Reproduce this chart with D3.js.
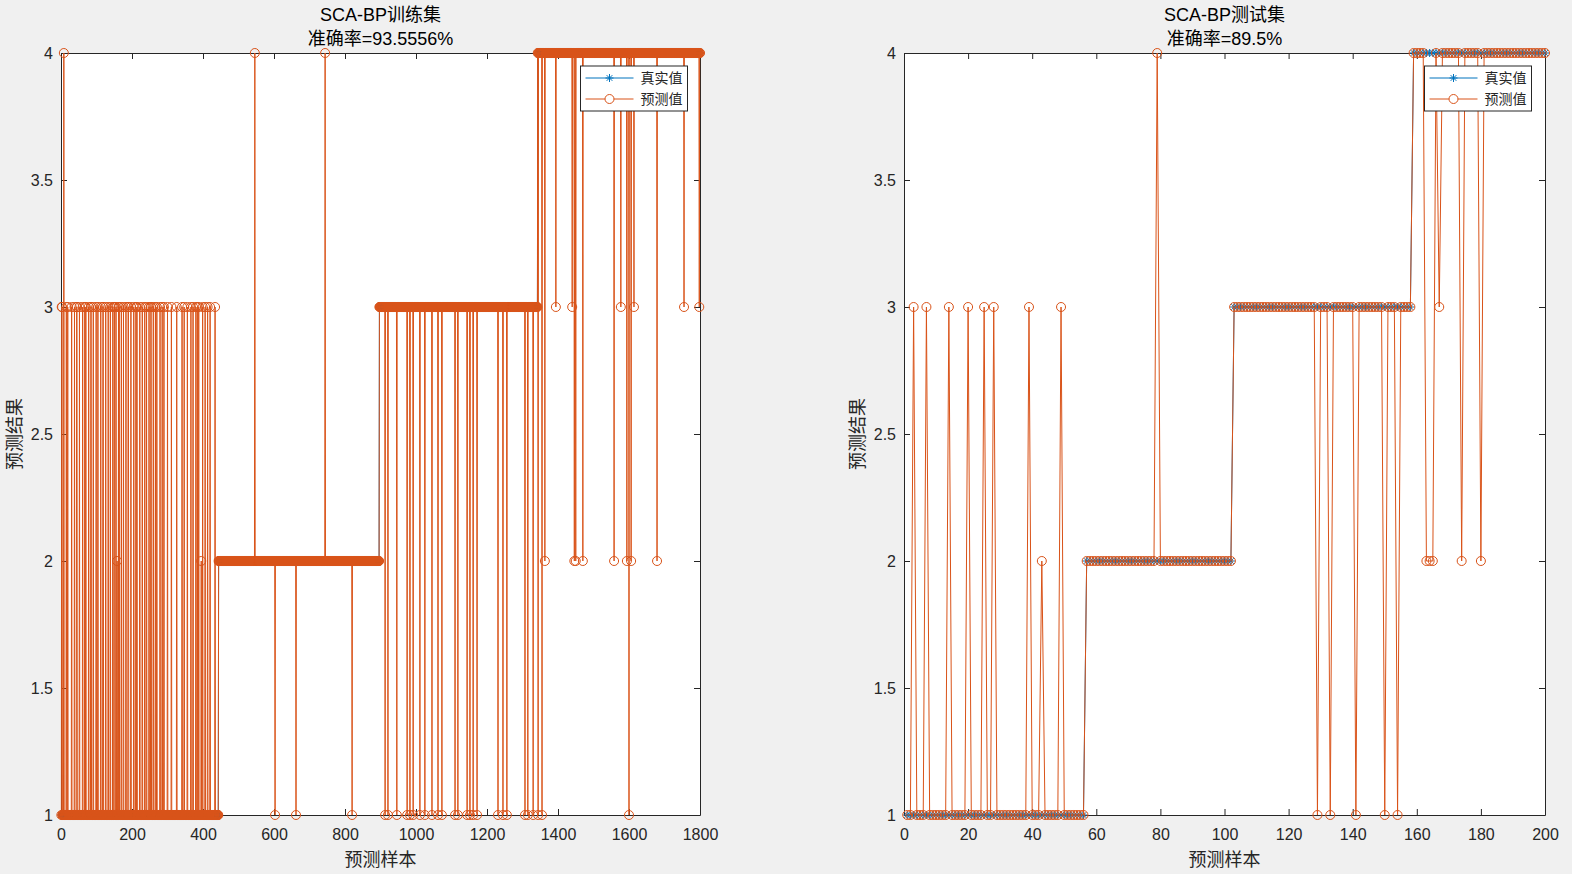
<!DOCTYPE html>
<html>
<head>
<meta charset="utf-8">
<script src="https://cdn.jsdelivr.net/npm/d3@7"></script>
<style>
  html, body { margin: 0; padding: 0; background: #f0f0f0; }
  svg { display: block; }
  text { font-family: "Liberation Sans", Arial, "Noto Sans CJK SC", sans-serif; }
</style>
</head>
<body>
<svg id="chart" width="1572" height="874"></svg>
<script>
// ---------------- DATA ----------------
// Training set (1800 samples, sorted by true class)
const trainClassSizes = [443, 453, 446, 458];           // class 1,2,3,4 counts
const trainWrongTo1 = [603, 662, 820, 913, 921, 946, 975, 983, 992, 1011, 1025, 1045, 1062, 1073,
  1110, 1118, 1144, 1152, 1161, 1172, 1231, 1245, 1256, 1307, 1315, 1330, 1344, 1355, 1600];
const trainWrongTo2 = [158, 395, 1363, 1446, 1450, 1470, 1558, 1594, 1606, 1679];
const trainWrongTo3 = [2, 3, 15, 19, 30, 38, 44, 45, 52, 61, 67, 70, 78, 84, 85, 91, 99, 104, 112,
  118, 119, 126, 133, 139, 146, 150, 151, 155, 162, 164, 170, 176, 183, 189, 190, 197, 205, 211,
  214, 222, 229, 236, 241, 248, 253, 254, 260, 266, 270, 279, 285, 290, 300, 311, 326, 341, 347,
  356, 366, 372, 380, 384, 388, 399, 406, 413, 420, 434,
  1394, 1440, 1577, 1614, 1755, 1798];
const trainWrongTo4 = [8, 546, 744];

// Test set (200 samples, sorted by true class)
const testClassSizes = [56, 46, 56, 42];
const testWrongTo1 = [129, 133, 141, 150, 154];
const testWrongTo2 = [43, 163, 164, 165, 174, 180];
const testWrongTo3 = [3, 7, 14, 20, 25, 28, 39, 49, 167];
const testWrongTo4 = [79];

const yTicks = [1, 1.5, 2, 2.5, 3, 3.5, 4];
const trainXTicks = [0, 200, 400, 600, 800, 1000, 1200, 1400, 1600, 1800];
const testXTicks = [0, 20, 40, 60, 80, 100, 120, 140, 160, 180, 200];

const trainTitle = ["SCA-BP训练集", "准确率=93.5556%"];
const testTitle = ["SCA-BP测试集", "准确率=89.5%"];
const xLabel = "预测样本";
const yLabel = "预测结果";
const legendLabels = ["真实值", "预测值"];

// ---------------- BUILD SERIES ----------------
function buildSeries(sizes, wrong) {
  const truth = [];
  sizes.forEach((n, k) => { for (let j = 0; j < n; j++) truth.push(k + 1); });
  const pred = truth.slice();
  wrong.forEach((list, k) => list.forEach(i => { pred[i - 1] = k + 1; }));
  return {
    truth: truth.map((v, i) => ({ x: i + 1, y: v })),
    pred: pred.map((v, i) => ({ x: i + 1, y: v }))
  };
}
const trainSeries = buildSeries(trainClassSizes, [trainWrongTo1, trainWrongTo2, trainWrongTo3, trainWrongTo4]);
const testSeries = buildSeries(testClassSizes, [testWrongTo1, testWrongTo2, testWrongTo3, testWrongTo4]);

// ---------------- DRAW ----------------
const BLUE = "#0072BD", ORANGE = "#D95319", AX = "#262626";
const svg = d3.select("#chart");
const R = 4.5;

function starPath(s) {
  const d = s * 0.7071;
  return `M${-s},0L${s},0M0,${-s}L0,${s}M${-d},${-d}L${d},${d}M${-d},${d}L${d},${-d}`;
}

function panel(cfg) {
  const { x0, x1, y0, y1, xMax, xTicks, series, title, legendX } = cfg;
  const xs = d3.scaleLinear().domain([0, xMax]).range([x0, x1]);
  const ys = d3.scaleLinear().domain([1, 4]).range([y1, y0]);
  const g = svg.append("g");

  g.append("rect").attr("x", x0).attr("y", y0).attr("width", x1 - x0).attr("height", y1 - y0)
    .attr("fill", "#ffffff");

  // axes (box with inward ticks on all sides)
  const bottom = d3.axisBottom(xs).tickValues(xTicks).tickSizeInner(-6).tickSizeOuter(0).tickPadding(14)
    .tickFormat(d3.format("d"));
  const top = d3.axisTop(xs).tickValues(xTicks).tickSizeInner(-6).tickSizeOuter(0).tickFormat("");
  const left = d3.axisLeft(ys).tickValues(yTicks).tickSizeInner(-6).tickSizeOuter(0).tickPadding(8)
    .tickFormat(d3.format("~g"));
  const right = d3.axisRight(ys).tickValues(yTicks).tickSizeInner(-6).tickSizeOuter(0).tickFormat("");

  const styleAxis = sel => {
    sel.selectAll(".domain").attr("stroke", AX).attr("stroke-width", 1);
    sel.selectAll(".tick line").attr("stroke", AX).attr("stroke-width", 1);
    sel.selectAll(".tick text").attr("fill", AX).attr("font-size", 16)
      .attr("font-family", "'Liberation Sans', Arial, sans-serif");
  };
  g.append("g").attr("transform", `translate(0,${y1})`).call(bottom).call(styleAxis);
  g.append("g").attr("transform", `translate(0,${y0})`).call(top).call(styleAxis);
  g.append("g").attr("transform", `translate(${x0},0)`).call(left).call(styleAxis);
  g.append("g").attr("transform", `translate(${x1},0)`).call(right).call(styleAxis);

  const line = d3.line().x(d => xs(d.x)).y(d => ys(d.y));

  // true values
  g.append("path").datum(series.truth).attr("d", line)
    .attr("fill", "none").attr("stroke", BLUE).attr("stroke-width", 1);
  g.append("g").selectAll("path").data(series.truth).join("path")
    .attr("transform", d => `translate(${xs(d.x)},${ys(d.y)})`)
    .attr("d", starPath(4)).attr("fill", "none").attr("stroke", BLUE).attr("stroke-width", 1);

  // predictions
  g.append("path").datum(series.pred).attr("d", line)
    .attr("fill", "none").attr("stroke", ORANGE).attr("stroke-width", 1);
  g.append("g").selectAll("circle").data(series.pred).join("circle")
    .attr("cx", d => xs(d.x)).attr("cy", d => ys(d.y)).attr("r", R)
    .attr("fill", "none").attr("stroke", ORANGE).attr("stroke-width", 1);

  // titles
  const cx = (x0 + x1) / 2;
  g.append("text").attr("x", cx).attr("y", 21).attr("text-anchor", "middle")
    .attr("font-size", 18).attr("fill", "#000").text(title[0]);
  g.append("text").attr("x", cx).attr("y", 45).attr("text-anchor", "middle")
    .attr("font-size", 18).attr("fill", "#000").text(title[1]);

  // axis labels
  g.append("text").attr("x", cx).attr("y", 866).attr("text-anchor", "middle")
    .attr("font-size", 18).attr("fill", AX).text(xLabel);
  g.append("text").attr("transform", `translate(${x0 - 40},${(y0 + y1) / 2}) rotate(-90)`)
    .attr("text-anchor", "middle").attr("font-size", 18).attr("fill", AX).text(yLabel);

  // legend
  const lg = g.append("g").attr("transform", `translate(${legendX},66)`);
  lg.append("rect").attr("x", 0).attr("y", 0).attr("width", 107).attr("height", 45)
    .attr("fill", "#fff").attr("stroke", AX).attr("stroke-width", 1);
  [[BLUE, "star"], [ORANGE, "circle"]].forEach(([c, m], k) => {
    const yy = 12 + k * 21;
    lg.append("line").attr("x1", 5).attr("x2", 53).attr("y1", yy).attr("y2", yy)
      .attr("stroke", c).attr("stroke-width", 1);
    if (m === "star") {
      lg.append("path").attr("transform", `translate(29,${yy})`).attr("d", starPath(4))
        .attr("stroke", c).attr("fill", "none");
    } else {
      lg.append("circle").attr("cx", 29).attr("cy", yy).attr("r", R)
        .attr("stroke", c).attr("fill", "#fff");
    }
    lg.append("text").attr("x", 60).attr("y", yy + 5).attr("font-size", 14).attr("fill", AX)
      .text(legendLabels[k]);
  });
}

panel({ x0: 61, x1: 700, y0: 53, y1: 815, xMax: 1800, xTicks: trainXTicks,
        series: trainSeries, title: trainTitle, legendX: 580.5 });
panel({ x0: 904, x1: 1545, y0: 53, y1: 815, xMax: 200, xTicks: testXTicks,
        series: testSeries, title: testTitle, legendX: 1424.5 });
</script>
</body>
</html>
